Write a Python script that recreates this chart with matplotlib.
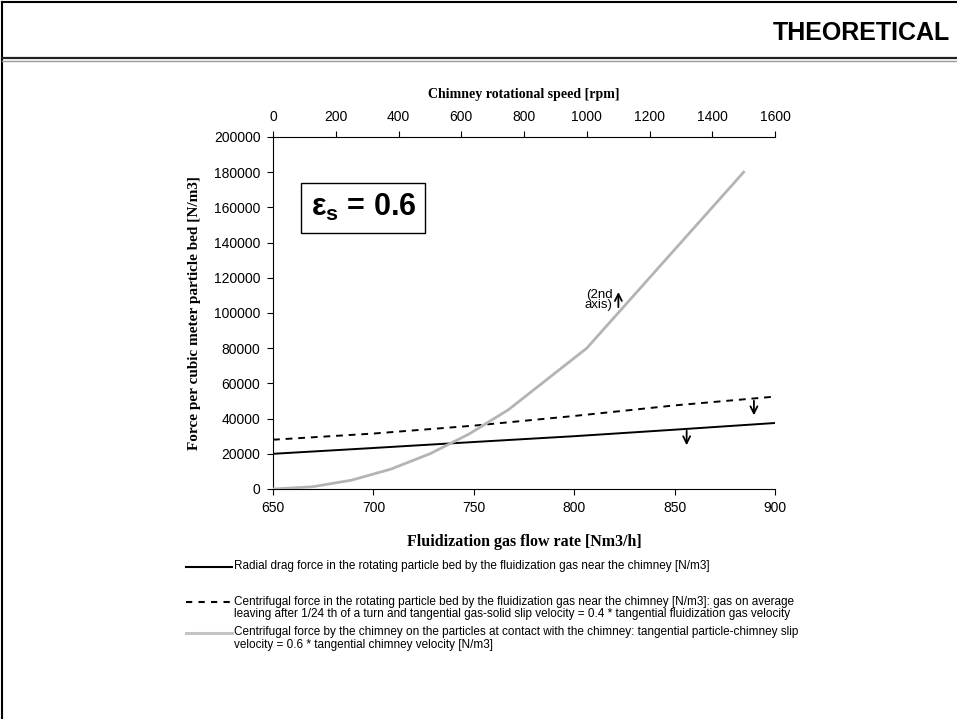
import numpy as np
import matplotlib
matplotlib.use('Agg')
import matplotlib.pyplot as plt
from matplotlib.lines import Line2D

plt.rcParams['font.family'] = ['Liberation Sans', 'DejaVu Sans']
plt.rcParams['mathtext.fontset'] = 'custom'
plt.rcParams['mathtext.bf'] = 'Liberation Sans:bold'
plt.rcParams['mathtext.rm'] = 'Liberation Sans'

# fluidization gas flow rate [Nm3/h] (bottom axis)
flow = [650, 700, 750, 800, 850, 900]
drag = [20000, 23300, 26700, 30000, 33700, 37500]
centrifugal_gas = [28000, 31500, 36000, 41500, 47500, 52500]

# chimney rotational speed [rpm] (top axis)
rpm = [0, 125, 250, 375, 500, 625, 750, 1000, 1500]
centrifugal_chimney = [0, 1250, 5000, 11250, 20000, 31250, 45000, 80000, 180000]

labels = ['Radial drag force in the rotating particle bed by the fluidization gas near the chimney [N/m3]',
          'Centrifugal force in the rotating particle bed by the fluidization gas near the chimney [N/m3]: gas on average\n'
          'leaving after 1/24 th of a turn and tangential gas-solid slip velocity = 0.4 * tangential fluidization gas velocity',
          'Centrifugal force by the chimney on the particles at contact with the chimney: tangential particle-chimney slip\n'
          'velocity = 0.6 * tangential chimney velocity [N/m3]']

W, H = 957, 719
fig = plt.figure(figsize=(W / 100, H / 100), dpi=100)

def fx(px):
    return px / W

def fy(py):
    return 1 - py / H

# slide frame and header
fig.add_artist(Line2D([fx(2), fx(2)], [0, fy(1.5)], color='black', lw=1.5))
fig.add_artist(Line2D([fx(2), 1], [fy(1.5), fy(1.5)], color='black', lw=1.5))
fig.add_artist(Line2D([fx(2), 1], [fy(58), fy(58)], color='#222222', lw=1.6))
fig.add_artist(Line2D([fx(2), 1], [fy(60.5), fy(60.5)], color='#999999', lw=1.0))
fig.text(fx(950), fy(33), 'THEORETICAL', ha='right', va='center', fontsize=18, fontweight='bold')

ax = fig.add_axes([fx(273), fy(489), (775 - 273) / W, (489 - 137) / H])
ax.plot(flow, drag, color='black', lw=1.4)
ax.plot(flow, centrifugal_gas, color='black', lw=1.4, ls=(0, (3.5, 3)))
ax.set_xlim(650, 900)
ax.set_ylim(0, 200000)
ax.set_xticks([650, 700, 750, 800, 850, 900])
ax.set_yticks(np.arange(0, 200001, 20000))
ax.spines['right'].set_visible(False)
ax.spines['top'].set_visible(False)
ax.tick_params(direction='out', length=4, width=0.8, pad=5, labelsize=10)
ax.set_xlabel('Fluidization gas flow rate [Nm3/h]', family='Liberation Serif',
              fontweight='bold', fontsize=11.5, labelpad=13)
ax.set_ylabel('Force per cubic meter particle bed [N/m3]', family='Liberation Serif',
              fontweight='bold', fontsize=11, labelpad=9)

ax2 = ax.twiny()
ax2.plot(rpm, centrifugal_chimney, color='#b4b4b4', lw=2.0)
ax2.set_xlim(0, 1600)
ax2.set_ylim(0, 200000)
ax2.set_xticks(np.arange(0, 1601, 200))
ax2.spines['right'].set_visible(False)
ax2.spines['bottom'].set_visible(False)
ax2.spines['left'].set_visible(False)
ax2.tick_params(direction='out', length=4, width=0.8, pad=5, labelsize=10)
ax2.set_xlabel('Chimney rotational speed [rpm]', family='Liberation Serif',
               fontweight='bold', fontsize=10, labelpad=9)

# annotations
ax.text(695, 159700, r'$\mathbf{\varepsilon_s}$ = 0.6', ha='center', va='center',
        fontsize=22, fontweight='bold',
        bbox=dict(boxstyle='square,pad=0.3', fc='white', ec='black', lw=1))
arrow = dict(arrowstyle='->,head_length=0.5,head_width=0.25', color='black', lw=1.3)
ax.annotate('', xy=(889.5, 40300), xytext=(889.5, 51700), arrowprops=arrow)
ax.annotate('', xy=(856, 23300), xytext=(856, 34700), arrowprops=arrow)
ax.annotate('', xy=(822, 113500), xytext=(822, 101700), arrowprops=arrow)
ax.text(819, 107400, '(2nd\naxis)', ha='right', va='center', fontsize=9.5, linespacing=0.8)

# legend below the chart
styles = [dict(color='black', lw=1.5),
          dict(color='black', lw=1.5, ls=(0, (3, 3))),
          dict(color='#c4c4c4', lw=2.2)]
ys = [567, 602, 633]
for st, lab, y in zip(styles, labels, ys):
    fig.add_artist(Line2D([fx(186), fx(232)], [fy(y), fy(y)], **st))
    fig.text(fx(234), fy(y - 6.5), lab, ha='left', va='top', fontsize=8.5, linespacing=1.1)

fig.savefig('out.png', dpi=100)
